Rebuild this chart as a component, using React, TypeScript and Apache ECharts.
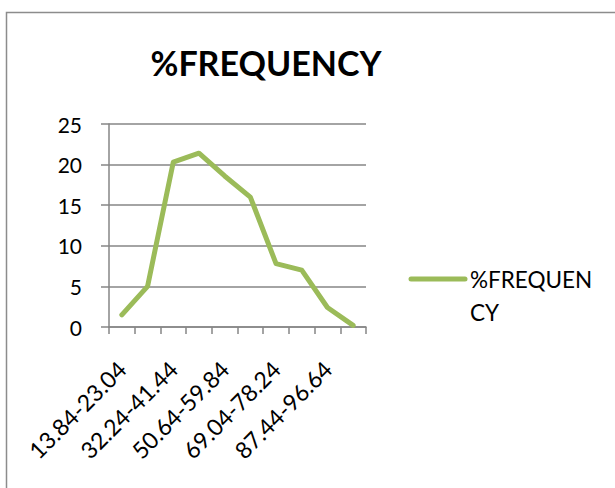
import React, { useEffect, useRef } from "react";
import * as echarts from "echarts";

const categories = [
  "13.84-23.04",
  "23.04-32.24",
  "32.24-41.44",
  "41.44-50.64",
  "50.64-59.84",
  "59.84-69.04",
  "69.04-78.24",
  "78.24-87.44",
  "87.44-96.64",
  "96.64-105.84",
];
const frequency = [1.5, 5, 20.3, 21.4, 18.6, 16, 7.8, 7, 2.4, 0.2];
const seriesName = "%FREQUENCY";
const titleText = "%FREQUENCY";
const legendLines = ["%FREQUEN", "CY"];

const FONT = "Lato, 'Open Sans', sans-serif";
const GREEN = "#9BBB59";
const GRAY = "#868686";

export default function App() {
  const ref = useRef<HTMLDivElement>(null);
  useEffect(() => {
    if (!ref.current) return;
    const chart = echarts.init(ref.current, null, { renderer: "svg" });
    chart.setOption({
      animation: false,
      backgroundColor: "#ffffff",
      title: {
        text: titleText,
        left: 261,
        top: 40,
        textAlign: "center",
        textStyle: {
          fontFamily: FONT,
          fontWeight: "bold",
          fontSize: 34,
          color: "#000",
        },
      },
      grid: { left: 109, right: 249, top: 124, bottom: 161 },
      xAxis: {
        type: "category",
        data: categories,
        boundaryGap: true,
        axisLine: { show: true, lineStyle: { color: GRAY, width: 1.5 } },
        axisTick: { show: true, interval: 0, length: 7, lineStyle: { color: GRAY, width: 1.5 } },
        axisLabel: {
          interval: 1,
          rotate: 45,
          margin: 38,
          fontFamily: FONT,
          fontSize: 23,
          color: "#000",
        },
      },
      yAxis: {
        type: "value",
        min: 0,
        max: 25,
        interval: 5,
        axisLine: { show: true, lineStyle: { color: GRAY, width: 1.5 } },
        axisTick: { show: true, length: 8, lineStyle: { color: GRAY, width: 1.5 } },
        splitLine: { show: true, lineStyle: { color: GRAY, width: 1.5 } },
        axisLabel: {
          margin: 27,
          fontFamily: FONT,
          fontSize: 21,
          color: "#000",
        },
      },
      series: [
        {
          name: seriesName,
          type: "line",
          data: frequency,
          symbol: "none",
          lineStyle: { color: GREEN, width: 5, join: "round", cap: "round" },
          itemStyle: { color: GREEN },
        },
      ],
      graphic: [
        {
          type: "rect",
          shape: { x: 6.5, y: 12.5, width: 700, height: 600 },
          style: { fill: "none", stroke: "#8c8c8c", lineWidth: 1.5 },
          silent: true,
        },
        {
          type: "line",
          shape: { x1: 411, y1: 279, x2: 465, y2: 279 },
          style: { stroke: GREEN, lineWidth: 5, lineCap: "round" },
        },
        {
          type: "text",
          x: 470,
          y: 279,
          style: {
            text: legendLines[0],
            fontFamily: FONT,
            fontSize: 22.5,
            fill: "#000",
            verticalAlign: "middle",
          },
        },
        {
          type: "text",
          x: 470,
          y: 312,
          style: {
            text: legendLines[1],
            fontFamily: FONT,
            fontSize: 22.5,
            fill: "#000",
            verticalAlign: "middle",
          },
        },
      ],
    });
    return () => chart.dispose();
  }, []);
  return (
    <div
      ref={ref}
      style={{ position: "fixed", left: 0, top: 0, width: 615, height: 488 }}
    />
  );
}
